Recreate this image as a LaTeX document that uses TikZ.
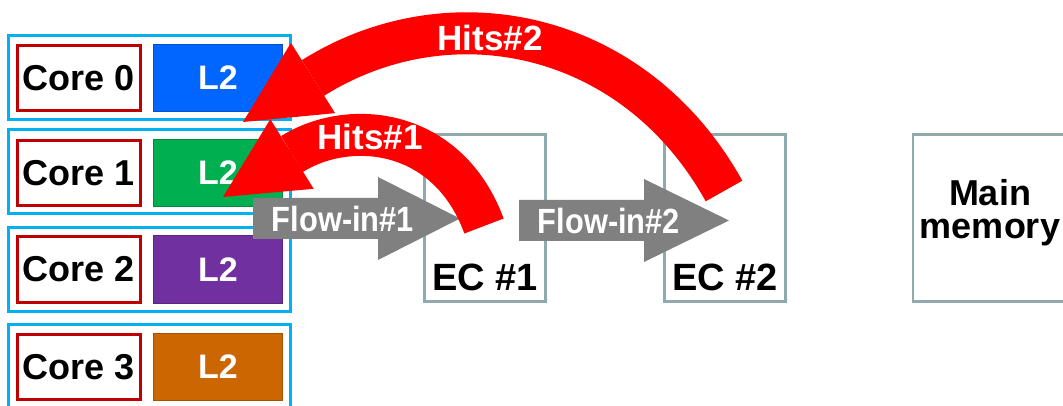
\documentclass[tikz,border=0pt]{standalone}
\usepackage{fontspec}
\setmainfont{Liberation Sans}
\usetikzlibrary{calc}

\definecolor{clusterblue}{HTML}{00B0F0}
\definecolor{corered}{HTML}{C00000}
\definecolor{ltblue}{HTML}{0066FF}
\definecolor{ltgreen}{HTML}{00B050}
\definecolor{ltpurple}{HTML}{7030A0}
\definecolor{ltorange}{HTML}{CC6600}
\definecolor{ecgray}{HTML}{8FAAAC}
\definecolor{flowgray}{HTML}{808080}
\definecolor{hitred}{HTML}{FF0000}

\newcommand{\bigfont}{\fontsize{36pt}{33pt}\selectfont\bfseries}
\newcommand{\midfont}{\fontsize{35pt}{33pt}\selectfont\bfseries}

\begin{document}
\begin{tikzpicture}[x=1pt,y=-1pt,
  cluster/.style={draw=clusterblue,line width=3pt,minimum width=282pt,minimum height=84pt,inner sep=0pt},
  corebox/.style={draw=corered,line width=3pt,fill=white,minimum width=123pt,minimum height=65pt,inner sep=0pt,font=\bigfont},
  ltwo/.style={fill=#1,draw=#1!80!black,line width=1pt,minimum width=129pt,minimum height=67pt,inner sep=0pt,text=white,font=\fontsize{34pt}{33pt}\selectfont\bfseries},
  ecbox/.style={draw=ecgray,line width=2.6pt,minimum width=121pt,minimum height=167pt,inner sep=0pt},
  labeltext/.style={inner sep=0pt,font=\bigfont,align=center},
  flowarrow/.style={fill=flowgray},
  flowtext/.style={inner sep=0pt,text=white,font=\midfont},
  hitshaft/.style={draw=hitred,line width=42pt,line cap=butt},
  hithead/.style={fill=hitred},
  hittext/.style={inner sep=0pt,text=white,font=\midfont}
]
\clip (0,0) rectangle (1063,406);
\fill[white] (0,0) rectangle (1063,406);

% core clusters
\node[cluster] (g0) at (149.5,77.5) {};
\node[cluster] (g1) at (149.5,172) {};
\node[cluster] (g2) at (149.5,269.5) {};
\node[cluster] (g3) at (149.5,366.5) {};

\node[corebox] (c0) at (79,78) {Core 0};
\node[corebox] (c1) at (79,173) {Core 1};
\node[corebox] (c2) at (79,269.5) {Core 2};
\node[corebox] (c3) at (79,367) {Core 3};

\node[ltwo=ltblue]   (l0) at (218,78) {L2};
\node[ltwo=ltgreen]  (l1) at (218,173) {L2};
\node[ltwo=ltpurple] (l2) at (218,269.5) {L2};
\node[ltwo=ltorange] (l3) at (218,367) {L2};

% external caches and memory
\node[ecbox] (ec1) at (485,218) {};
\node[ecbox] (ec2) at (725,218) {};
\node[ecbox,minimum width=155pt] (mem) at (990.5,218) {};

\node[labeltext,font=\fontsize{38pt}{33pt}\selectfont\bfseries] (ec1t) at (485,277.5) {EC \#1};
\node[labeltext,font=\fontsize{38pt}{33pt}\selectfont\bfseries] (ec2t) at (725,277.5) {EC \#2};
\node[labeltext] (memt) at (990,213) {Main\\memory};

% flow-in block arrows
\coordinate (f1s) at (253,218.5);
\coordinate (f1t) at (460,218.5);
\fill[flowarrow] ($(f1s)+(0,-20.5)$) -- ($(f1t)+(-82,-20.5)$) -- ($(f1t)+(-82,-41.5)$) -- (f1t)
  -- ($(f1t)+(-82,41.5)$) -- ($(f1t)+(-82,20.5)$) -- ($(f1s)+(0,20.5)$) -- cycle;
\node[flowtext] (f1l) at (343,218.5) {\scalebox{0.88}[1]{Flow-in\#1}};

\coordinate (f2s) at (519,220.5);
\coordinate (f2t) at (729,220.5);
\fill[flowarrow] ($(f2s)+(0,-20.5)$) -- ($(f2t)+(-85,-20.5)$) -- ($(f2t)+(-85,-41.5)$) -- (f2t)
  -- ($(f2t)+(-85,41.5)$) -- ($(f2t)+(-85,20.5)$) -- ($(f2s)+(0,20.5)$) -- cycle;
\node[flowtext] (f2l) at (609,220.5) {\scalebox{0.88}[1]{Flow-in\#2}};

% hits #1: from EC #1 back to the L2 of core 1
\coordinate (h1s) at (484,226);
\coordinate (h1b) at (292,154);
\coordinate (h1tip) at (223,197);
\draw[hitshaft] (h1s) .. controls (448,128) and (349.8,118) .. (h1b);
\fill[hithead] (h1tip) -- ($(h1b)!41pt!90:(h1tip)$) -- ($(h1b)!41pt!-90:(h1tip)$) -- cycle;
\node[hittext] (h1l) at (370,137) {Hits\#1};

% hits #2: from EC #2 back to the L2 of core 0
\coordinate (h2s) at (724,191);
\coordinate (h2b) at (313,78);
\coordinate (h2tip) at (243,122);
\draw[hitshaft] (h2s) .. controls (634,29) and (448.4,-7.3) .. (h2b);
\fill[hithead] (h2tip) -- ($(h2b)!41.5pt!90:(h2tip)$) -- ($(h2b)!41.5pt!-90:(h2tip)$) -- cycle;
\node[hittext] (h2l) at (490,38) {Hits\#2};
\end{tikzpicture}
\end{document}
